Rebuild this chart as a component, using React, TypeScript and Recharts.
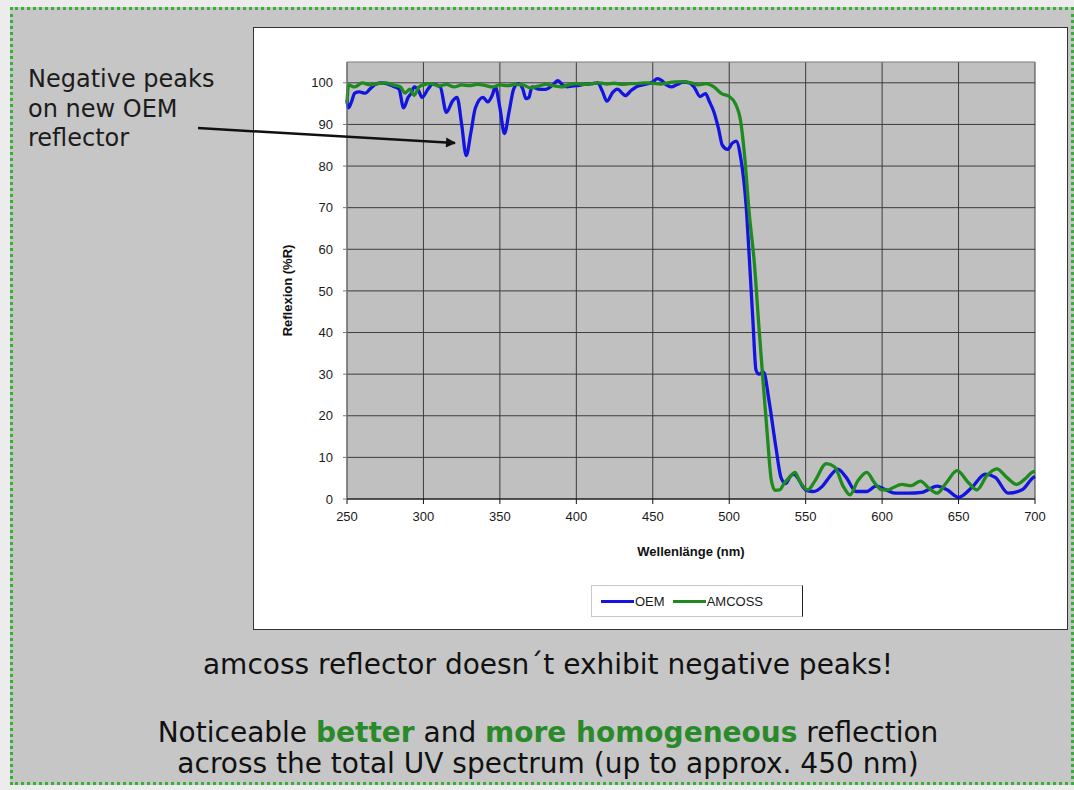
import {
	CartesianGrid,
	Legend,
	Line,
	LineChart,
	ReferenceLine,
	XAxis,
	YAxis,
} from "recharts";

// wavelength (nm) / reflexion (%R)
const oemWavelength = [
	250, 251, 253, 255, 258, 262, 265, 268, 272, 276, 280, 284, 287, 290, 292,
	294, 297, 299, 303, 306, 311, 315, 319, 322, 325, 328, 331, 334, 339, 342,
	345, 347, 350, 353, 356, 359, 362, 365, 367, 369, 371, 375, 380, 384, 388,
	391, 394, 397, 400, 405, 410, 414, 417, 420, 424, 427, 430, 432, 436, 440,
	445, 450, 453, 456, 459, 462, 466, 470, 474, 477, 481, 484.5, 487, 490, 493,
	495.5, 499, 502, 504.5, 507.5, 511, 513, 515.5, 517.5, 519.5, 522.5, 526,
	530.5, 534, 537, 540, 542, 545, 548, 551, 555, 561, 566, 571, 576.5, 583,
	590, 596, 602.5, 609, 617, 626, 636, 642.5, 650, 658.5, 667.5, 674, 682.5,
	691.5, 699, 700,
];
const oemReflexion = [
	96, 94, 95.5, 97.5, 97.8, 97.5, 98.5, 99.5, 100, 99.8, 99.2, 98.5, 94, 96.5,
	97.5, 99, 98, 96.5, 98.5, 99.7, 99, 92.9, 95.6, 96.5, 90, 82.5, 88, 94, 96.5,
	95.4, 97, 99, 94, 87.8, 93, 98.5, 99.8, 98.5, 96.2, 96.5, 99, 98.5, 98.4,
	99.3, 100.5, 99.5, 99, 99.2, 99.3, 99.6, 99.8, 100, 98, 95.6, 97.8, 98.5,
	97.5, 96.9, 98.2, 99.2, 99.6, 100.2, 101, 100.5, 99.5, 99, 99.6, 100.2, 100,
	99, 96.7, 97.4, 95.5, 93, 89, 85, 84, 85.5, 86, 82, 70.7, 58.8, 42.8, 31, 30,
	30.5, 23.7, 12.5, 5, 3.7, 5.5, 6, 5, 3, 2, 1.8, 3.1, 5.5, 7.2, 5.2, 1.8, 1.8,
	3.1, 2.2, 1.4, 1.4, 1.6, 3.1, 2.2, 0.4, 2.7, 6, 5.2, 1.4, 2.2, 5.2, 5.4,
];

const amcossWavelength = [
	250, 251, 255, 260, 265, 270, 275, 280, 285, 288, 291, 294, 297, 300, 305,
	310, 315, 320, 325, 330, 335, 340, 345, 350, 355, 360, 365, 370, 375, 380,
	385, 390, 395, 400, 405, 410, 415, 420, 425, 430, 435, 440, 445, 450, 455,
	460, 465, 470, 475, 480, 485, 490, 495, 500, 504, 507.5, 510, 513, 516.5,
	519.5, 522, 525, 527.5, 530, 533, 536, 539.5, 543, 546, 551.5, 556, 563.5,
	569, 574.5, 579, 584, 590, 595, 600, 604, 607, 613, 619, 625, 631, 636, 642,
	649, 656.5, 662, 668.5, 675, 681.5, 688, 694, 698, 700,
];
const amcossReflexion = [
	95, 99.5, 99, 100, 99.5, 99.8, 100, 99.5, 99, 97.5, 98.5, 97, 99, 99.5, 99.8,
	99.2, 99.6, 99, 99.5, 99.3, 99.6, 99.4, 99, 99.5, 99.3, 99.6, 99.5, 98.8,
	99.2, 99.6, 99.3, 99, 99.5, 99.8, 99.6, 99.8, 100, 99.7, 99.9, 99.6, 99.8,
	99.8, 100, 99.9, 99.7, 100, 100.2, 100.3, 100, 99.5, 99.8, 99, 97.4, 96.7, 95,
	90.7, 82.7, 69, 56.4, 41, 29, 15, 4.6, 2.1, 2.2, 3.8, 5.2, 6.4, 4.3, 2.2, 4.3,
	8.5, 7.7, 3.1, 1, 4.3, 6.4, 3.9, 2.2, 2.2, 2.7, 3.5, 3.2, 4.3, 2.5, 1.4, 3.9,
	6.8, 3.9, 2.2, 5.6, 7.25, 5.2, 3.5, 5, 6.4, 6.7,
];

const xTicks = [250, 300, 350, 400, 450, 500, 550, 600, 650, 700];
const yTicks = [0, 10, 20, 30, 40, 50, 60, 70, 80, 90, 100];

const oemPoints = oemWavelength.map((nm, i) => ({ nm, oem: oemReflexion[i] }));
const amcossPoints = amcossWavelength.map((nm, i) => ({
	nm,
	amcoss: amcossReflexion[i],
}));

const tickStyle = { fill: "#1a1a1a", fontSize: 13, fontFamily: "Liberation Sans, Arial" };

function LegendBox() {
	const item = (color: string, label: string) => (
		<span style={{ display: "inline-flex", alignItems: "center" }}>
			<span style={{ display: "inline-block", width: 33, height: 3, background: color }} />
			<span style={{ marginLeft: 1 }}>{label}</span>
		</span>
	);
	return (
		<div
			style={{
				boxSizing: "border-box",
				width: 212,
				height: 32,
				border: "1px solid #c8c8c8",
				borderRight: "1px solid #222",
				background: "#fff",
				display: "flex",
				alignItems: "center",
				gap: 8,
				paddingLeft: 9,
				fontFamily: "Liberation Sans, Arial",
				fontSize: 13,
				color: "#1a1a1a",
			}}
		>
			{item("#1414e0", "OEM")}
			{item("#1f8a1f", "AMCOSS")}
		</div>
	);
}

export default function App() {
	return (
		<div
			style={{
				position: "absolute",
				left: 0,
				top: 0,
				width: 1074,
				height: 790,
				background: "#ececec",
				overflow: "hidden",
				fontFamily: "DejaVu Sans, Verdana, sans-serif",
			}}
		>
			<div
				style={{
					position: "absolute",
					left: 10,
					top: 7,
					width: 1064,
					height: 778,
					boxSizing: "border-box",
					border: "3px dotted #35b035",
					background: "#c6c6c6",
				}}
			/>

			<div
				style={{
					position: "absolute",
					left: 28,
					top: 65,
					fontSize: 24,
					lineHeight: "29.5px",
					color: "#1c1c1c",
				}}
			>
				Negative peaks
				<br />
				on new OEM
				<br />
				reflector
			</div>

			<div
				style={{
					position: "absolute",
					left: 253,
					top: 27,
					width: 815,
					height: 603,
					boxSizing: "border-box",
					border: "1px solid #333",
					background: "#fff",
				}}
			>
				<LineChart
					width={813}
					height={601}
					margin={{ top: 34, right: 32, bottom: 38, left: 33 }}
				>
					<CartesianGrid
						fill="#c0c0c0"
						stroke="#3c3c3c"
						strokeWidth={1}
						horizontalValues={yTicks}
						verticalValues={xTicks}
					/>
					<ReferenceLine y={105} stroke="#7a7a7a" strokeWidth={1} />
					<XAxis
						type="number"
						dataKey="nm"
						domain={[250, 700]}
						ticks={xTicks}
						allowDuplicatedCategory={false}
						tick={tickStyle}
						tickSize={5}
						tickMargin={8}
						stroke="#111"
						height={60}
						label={{
							value: "Wellenlänge (nm)",
							position: "insideBottom",
							offset: 3,
							style: { fontWeight: "bold", fontSize: 13, fill: "#111", fontFamily: "Liberation Sans, Arial" },
						}}
					/>
					<YAxis
						type="number"
						domain={[0, 105]}
						ticks={yTicks}
						tick={tickStyle}
						tickSize={4}
						tickMargin={10}
						stroke="#7a7a7a"
						width={60}
						label={{
							value: "Reflexion (%R)",
							angle: -90,
							position: "insideLeft",
							offset: 0,
							dy: 10,
							dx: 0,
							style: { fontWeight: "bold", fontSize: 13, fill: "#111", fontFamily: "Liberation Sans, Arial", textAnchor: "middle" },
						}}
					/>
					<Legend
						verticalAlign="bottom"
						content={() => <LegendBox />}
						wrapperStyle={{ top: 557, left: 337, bottom: "auto", width: 212, height: 32 }}
					/>
					<Line
						data={oemPoints}
						dataKey="oem"
						name="OEM"
						type="monotone"
						stroke="#1414e0"
						strokeWidth={3.3}
						dot={false}
						isAnimationActive={false}
					/>
					<Line
						data={amcossPoints}
						dataKey="amcoss"
						name="AMCOSS"
						type="monotone"
						stroke="#1f8a1f"
						strokeWidth={3.3}
						dot={false}
						isAnimationActive={false}
					/>
				</LineChart>
			</div>

			<svg
				width={1074}
				height={790}
				style={{ position: "absolute", left: 0, top: 0, pointerEvents: "none" }}
			>
				<defs>
					<marker
						id="arrowHead"
						viewBox="0 0 10 10"
						refX="9"
						refY="5"
						markerWidth="6"
						markerHeight="4"
						orient="auto"
					>
						<path d="M0,0 L10,5 L0,10 z" fill="#111" />
					</marker>
				</defs>
				<line
					x1={198}
					y1={128}
					x2={455}
					y2={143}
					stroke="#111"
					strokeWidth={2.5}
					markerEnd="url(#arrowHead)"
				/>
			</svg>

			<div
				style={{
					position: "absolute",
					left: 0,
					width: 1096,
					top: 649,
					textAlign: "center",
					fontSize: 28,
					lineHeight: "32px",
					color: "#111",
				}}
			>
				amcoss reflector doesn´t exhibit negative peaks!
			</div>
			<div
				style={{
					position: "absolute",
					left: 0,
					width: 1096,
					top: 717,
					textAlign: "center",
					fontSize: 28,
					lineHeight: "31px",
					color: "#111",
				}}
			>
				Noticeable <b style={{ color: "#2a8a2a" }}>better</b> and{" "}
				<b style={{ color: "#2a8a2a" }}>more homogeneous</b> reflection
				<br />
				across the total UV spectrum (up to approx. 450 nm)
			</div>
		</div>
	);
}
